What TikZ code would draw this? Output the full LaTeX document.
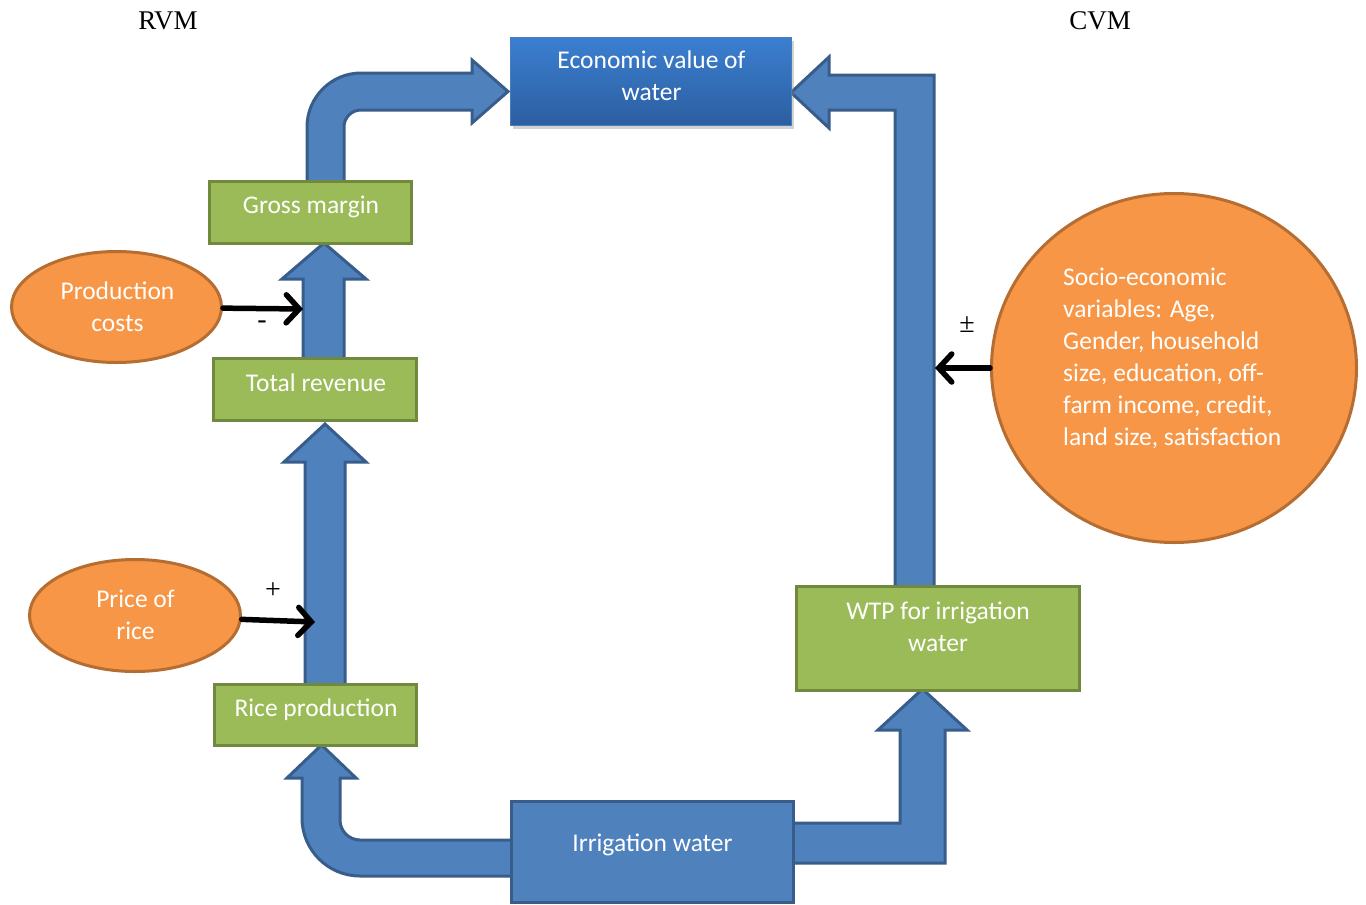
\documentclass[tikz,border=0pt]{standalone}
\usepackage{fontspec}
\setmainfont{Carlito}
\newfontfamily\tnr{Liberation Serif}
\usetikzlibrary{arrows.meta,shadows,shapes.geometric}
\definecolor{bluF}{HTML}{4F81BD}
\definecolor{bluB}{HTML}{385D8A}
\definecolor{grnF}{HTML}{9BBB59}
\definecolor{grnB}{HTML}{71893F}
\definecolor{orgF}{HTML}{F79646}
\definecolor{orgB}{HTML}{B66D31}
\definecolor{ecoT}{HTML}{3B7FD1}
\definecolor{ecoBt}{HTML}{2C5E9F}
\definecolor{ecoB}{HTML}{4A7EBB}
\begin{document}
\begin{tikzpicture}[x=1pt,y=-1pt,
  fat/.style={draw=bluB,fill=bluF,line width=3pt,line join=miter},
  gbox/.style={draw=grnB,fill=grnF,line width=3.5pt,inner sep=0pt},
  bbox/.style={draw=bluB,fill=bluF,line width=3pt,inner sep=0pt},
  oval/.style={ellipse,draw=orgB,fill=orgF,line width=3pt,inner sep=0pt},
  wtxt/.style={text=white,font=\fontsize{25.5}{32}\selectfont,inner sep=0pt},
  ttxt/.style={font=\tnr\fontsize{27}{30}\selectfont,inner sep=0pt},
  sign/.style={font=\tnr\fontsize{28}{30}\selectfont,inner sep=0pt},
  blk/.style={line width=5.5pt,line cap=round,-{Straight Barb[length=13pt,width=28pt,line cap=round]}}]

\path[use as bounding box,fill=white] (0,0) rectangle (1366,905);

% block arrows
% Gross margin -> Economic value
\draw[fat] (307,190) -- (307,127) .. controls (307,97.2) and (331.2,73) .. (361,73)
  -- (472,73) -- (472,60) -- (508,91.5) -- (472,123) -- (472,110) -- (361,110)
  .. controls (351.6,110) and (344,117.6) .. (344,127) -- (344,190) -- cycle;
% WTP -> Economic value
\draw[fat] (895,600) -- (895,110) -- (829,110) -- (829,128) -- (791,92.5)
  -- (829,57) -- (829,75) -- (934,75) -- (934,600) -- cycle;
% Total revenue -> Gross margin
\draw[fat] (303,365) -- (303,279) -- (282,279) -- (324,243) -- (366,279)
  -- (344,279) -- (344,365) -- cycle;
% Rice production -> Total revenue
\draw[fat] (305,690) -- (305,462) -- (284,462) -- (325,424) -- (366,462)
  -- (345,462) -- (345,690) -- cycle;
% Irrigation water -> Rice production
\draw[fat] (520,876) -- (360,876) .. controls (328,876) and (302,850) .. (302,818)
  -- (302,778) -- (287,778) -- (321.5,745) -- (356,778) -- (340,778) -- (340,820)
  .. controls (340,831) and (349,840) .. (360,840) -- (520,840) -- cycle;
% Irrigation water -> WTP
\draw[fat] (785,823) -- (900,823) -- (900,730) -- (878,730) -- (922.5,689)
  -- (967,730) -- (945,730) -- (945,863) -- (785,863) -- cycle;

% boxes
\node[draw=ecoB,line width=1.5pt,top color=ecoT,bottom color=ecoBt,
  minimum width=281pt,minimum height=88pt,inner sep=0pt,
  drop shadow={opacity=0.35,shadow xshift=2pt,shadow yshift=-3pt}] (ev) at (651,81.5) {};
\node[gbox,minimum width=202pt,minimum height=62pt] (gm) at (310.5,212.5) {};
\node[gbox,minimum width=203pt,minimum height=62pt] (tr) at (315,389.5) {};
\node[gbox,minimum width=202pt,minimum height=61pt] (rp) at (315.5,715) {};
\node[gbox,minimum width=283pt,minimum height=104pt] (wtp) at (938,638.5) {};
\node[bbox,minimum width=282pt,minimum height=101pt] (iw) at (652.5,852) {};

% ovals
\node[oval,minimum width=210pt,minimum height=111pt] (pc) at (116.5,307) {};
\node[oval,minimum width=211pt,minimum height=112pt] (pr) at (135,615.5) {};
\node[oval,minimum width=365pt,minimum height=349pt] (se) at (1174,368) {};

% texts
\node[wtxt,anchor=base] (evt) at (651.5,68) {\begin{tabular}[t]{@{}c@{}}Economic value of\\water\end{tabular}};
\node[wtxt,anchor=base] (gmt) at (311,213.5) {Gross margin};
\node[wtxt,anchor=base] (trt) at (316,391.5) {Total revenue};
\node[wtxt,anchor=base] (rpt) at (316,716.5) {Rice production};
\node[wtxt,anchor=base] (wtpt) at (938,619) {\begin{tabular}[t]{@{}c@{}}WTP for irrigation\\water\end{tabular}};
\node[wtxt,anchor=base] (iwt) at (652.5,851) {Irrigation water};
\node[wtxt,anchor=base] (pct) at (117.5,299) {\begin{tabular}[t]{@{}c@{}}Production\\costs\end{tabular}};
\node[wtxt,anchor=base] (prt) at (135.5,607.5) {\begin{tabular}[t]{@{}c@{}}Price of\\rice\end{tabular}};
\node[wtxt,anchor=base west] (set) at (1063,285) {\begin{tabular}[t]{@{}l@{}}Socio-economic\\variables: Age,\\Gender, household\\size, education, off-\\farm income, credit,\\land size, satisfaction\end{tabular}};

\node[ttxt,anchor=base] (rvm) at (168,29) {RVM};
\node[ttxt,anchor=base] (cvm) at (1100,29) {CVM};

% influence arrows
\coordinate (pcT) at (303,309);
\coordinate (prT) at (315,622);
\coordinate (seT) at (935,368);
\draw[blk] (pc) -- (pcT);
\draw[blk] (pr) -- (prT);
\draw[blk] (se) -- (seT);
\node[sign] (minus) at (262,325) {-};
\node[sign] (plus) at (273,591) {+};
\node[sign] (pm) at (967,325) {±};
\end{tikzpicture}
\end{document}
